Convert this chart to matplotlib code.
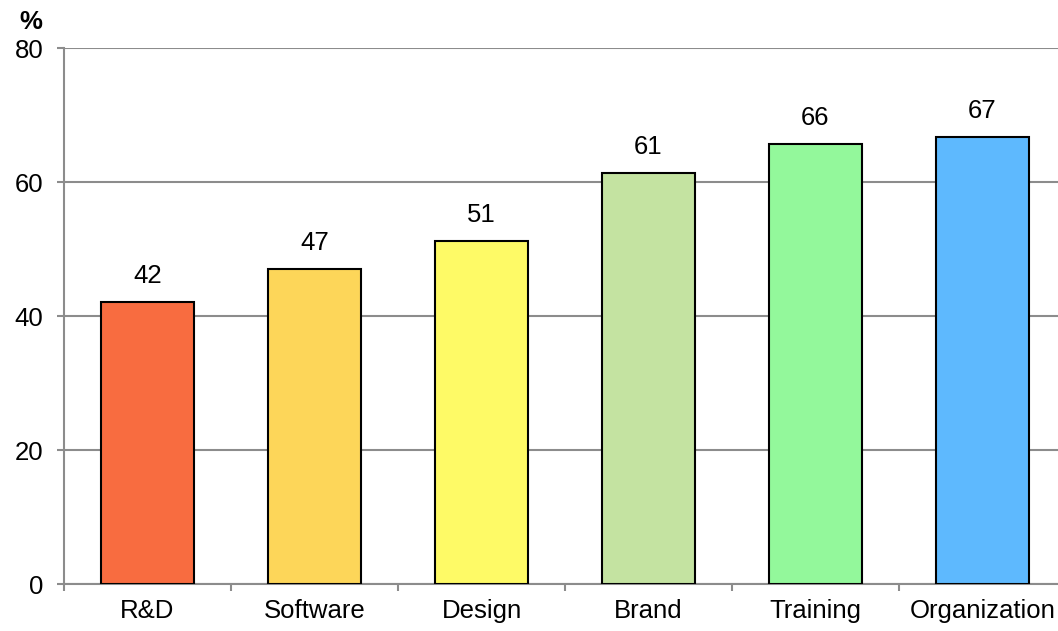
import matplotlib.pyplot as plt
import numpy as np

categories = ["R&D", "Software", "Design", "Brand", "Training", "Organization"]
shares = [42.1, 47.0, 51.2, 61.3, 65.7, 66.7]
bar_colors = ["#F86C40", "#FDD659", "#FEFA66", "#C4E3A1", "#93F89B", "#5EB9FE"]
y_ticks = [0, 20, 40, 60, 80]

plt.rcParams["font.family"] = ["Liberation Sans", "DejaVu Sans"]
grid_grey = "#8C8C8C"
font_size = 18.5

fig = plt.figure(figsize=(10.58, 6.31), dpi=100)
ax = fig.add_axes([64 / 1058, 47 / 631, 1002 / 1058, 536 / 631])

x = np.arange(len(categories))
bars = ax.bar(x, shares, width=0.56, color=bar_colors,
              edgecolor="black", linewidth=1.5, zorder=3)

for bar, value in zip(bars, shares):
    ax.annotate(f"{value:.0f}",
                xy=(bar.get_x() + bar.get_width() / 2, value),
                xytext=(0, 10), textcoords="offset points",
                ha="center", va="bottom", fontsize=font_size)

ax.set_xlim(-0.5, len(categories) - 0.5)
ax.set_ylim(0, 80)
ax.set_yticks(y_ticks)
ax.yaxis.grid(True, color=grid_grey, linewidth=1.5, zorder=0)
ax.set_axisbelow(True)

# category labels centred, tick marks on the boundaries
ax.set_xticks(x)
ax.set_xticklabels(categories, fontsize=font_size)
ax.tick_params(axis="x", which="major", length=0, pad=11)
ax.set_xticks(np.arange(len(categories) + 1) - 0.5, minor=True)
ax.tick_params(axis="x", which="minor", length=5, width=1.5, color=grid_grey)
ax.tick_params(axis="y", length=5, width=1.5, color=grid_grey,
               labelsize=font_size, pad=10)

for side in ["top", "right"]:
    ax.spines[side].set_visible(False)
for side in ["left", "bottom"]:
    ax.spines[side].set_color(grid_grey)
    ax.spines[side].set_linewidth(1.5)

fig.text(31 / 1058, 1 - 22 / 631, "%", ha="center", va="center",
         fontsize=font_size, fontweight="bold")

fig.savefig("out.png", dpi=100)
